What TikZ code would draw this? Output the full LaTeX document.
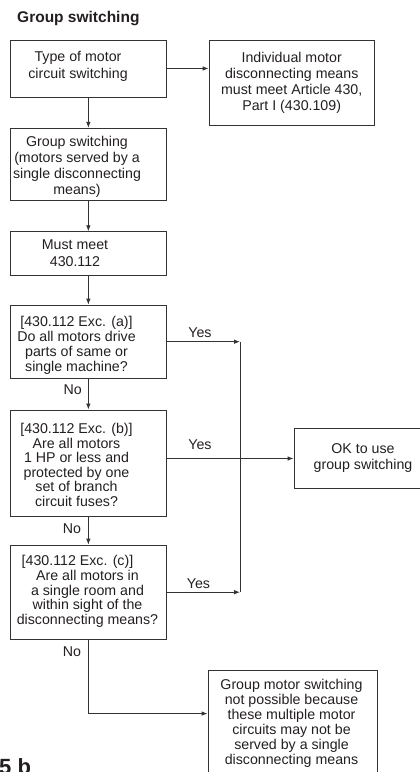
\documentclass[tikz,border=0pt]{standalone}
\usepackage{fontspec}
\setmainfont{Liberation Sans}
\usetikzlibrary{arrows.meta}
\definecolor{ink}{HTML}{231F20}
\definecolor{wire}{HTML}{333333}
\begin{document}
\begin{tikzpicture}[x=1pt,y=-1pt,
  box/.style={draw=wire, line width=0.9pt, rectangle, inner sep=0pt},
  txt/.style={align=center, inner sep=0pt, text=ink},
  lbl/.style={inner sep=0pt, text=ink, font=\fontsize{14.2}{16}\selectfont},
  conn/.style={draw=wire, line width=0.9pt},
  arr/.style={conn, -{Latex[length=6pt,width=4.6pt]}}]
\useasboundingbox (0,0) rectangle (420,772);
\clip (0,0) rectangle (420,772);

% title
\node[anchor=base west, inner sep=0pt, text=ink, font=\fontsize{15.5}{18}\selectfont\bfseries] (title) at (17,22.5) {Group switching};

% boxes
\node[box, minimum width=155.3pt, minimum height=57pt]   (b1)  at (88.35,68.5) {};
\node[box, minimum width=165.3pt, minimum height=85.5pt] (r1)  at (291.7,82.75) {};
\node[box, minimum width=155.3pt, minimum height=72pt]   (b2)  at (88.35,164.3) {};
\node[box, minimum width=155.3pt, minimum height=43.6pt] (b3)  at (88.35,253.5) {};
\node[box, minimum width=155.3pt, minimum height=73.3pt] (b4)  at (88.35,341.7) {};
\node[box, minimum width=155.3pt, minimum height=106.7pt](b5)  at (88.35,463.3) {};
\node[box, minimum width=155.3pt, minimum height=94.3pt] (b6)  at (88.35,592.2) {};
\node[box, minimum width=136pt,   minimum height=59.4pt] (ok)  at (362,458.5) {};
\node[box, minimum width=169pt,   minimum height=120pt]  (fin) at (292.5,730) {};

% texts
\node[txt, font=\fontsize{14.2}{16.5}\selectfont] (t1) at (78,66.5) {Type of motor\\circuit switching};
\node[txt, font=\fontsize{14.2}{16.3}\selectfont] (tr1) at (291.7,82.8) {Individual motor\\disconnecting means\\must meet Article 430,\\Part I (430.109)};
\node[txt, font=\fontsize{14.2}{15.8}\selectfont] (t2) at (77,166.7) {Group switching\\(motors served by a\\single disconnecting\\means)};
\node[txt, font=\fontsize{14.2}{16.7}\selectfont] (t3) at (75,253.3) {Must meet\\430.112};
\node[txt, font=\fontsize{14.2}{15}\selectfont] (t4) at (76.5,345) {[430.112 Exc. (a)]\\Do all motors drive\\parts of same or\\single machine?};
\node[txt, font=\fontsize{14.2}{14.5}\selectfont] (t5) at (76.5,465) {[430.112 Exc. (b)]\\Are all motors\\1 HP or less and\\protected by one\\set of branch\\circuit fuses?};
\node[txt, font=\fontsize{14.2}{14.8}\selectfont] (t6) at (87.5,591.5) {\hspace*{-20pt}[430.112 Exc. (c)]\\Are all motors in\\a single room and\\within sight of the\\disconnecting means?};
\node[txt, font=\fontsize{14.2}{16}\selectfont] (tok) at (363,458) {OK to use\\group switching};
\node[txt, font=\fontsize{14.2}{15}\selectfont] (tfin) at (291.5,723.5) {Group motor switching\\not possible because\\these multiple motor\\circuits may not be\\served by a single\\disconnecting means};

% junction
\coordinate (jx) at (240,0);

% connectors
\draw[arr] (b1.east) -- (r1.west |- b1.east);
\draw[arr] (b1.south) -- (b2.north);
\draw[arr] (b2.south) -- (b3.north);
\draw[arr] (b3.south) -- (b4.north);
\draw[arr] (b4.south) -- (b5.north);
\draw[arr] (b5.south) -- (b6.north);
\draw[arr] (b6.south) |- ([yshift=-44pt]fin.north west);
\draw[arr] (b4.east) -- (b4.east -| jx);
\draw[arr] (b6.east) -- (b6.east -| jx);
\draw[conn] (b4.east -| jx) -- (b6.east -| jx);
\draw[arr] (b5.east |- ok.west) -- (ok.west);

% labels
\node[lbl] (y1) at (200,333) {Yes};
\node[lbl] (y2) at (200,445) {Yes};
\node[lbl] (y3) at (198.5,583.5) {Yes};
\node[lbl] (n1) at (72.7,390) {No};
\node[lbl] (n2) at (72,528.5) {No};
\node[lbl] (n3) at (72,651.5) {No};

% figure number (cut off)
\node[anchor=base west, inner sep=0pt, text=ink, font=\fontsize{22}{24}\selectfont\bfseries] (fig) at (-1,774) {5 b};
\end{tikzpicture}
\end{document}
